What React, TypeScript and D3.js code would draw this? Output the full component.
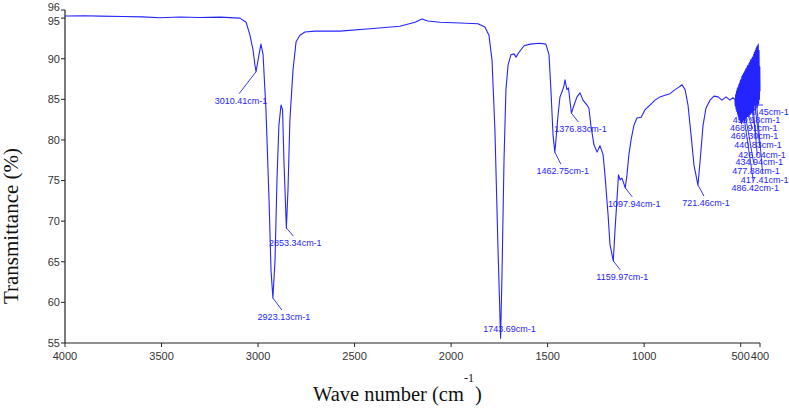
import React from "react";
import * as d3 from "d3";

// ---- data (wavenumber cm-1, transmittance %) ----
const spectrumMain: [number, number][] = [
  [4000, 95.26], [3900, 95.3], [3819, 95.25], [3700, 95.2], [3600, 95.15], [3508, 95.05],
  [3404, 95.14], [3301, 95.08], [3197, 95.12], [3094, 95.0], [3062, 94.5], [3042, 92.9],
  [3026, 91.1], [3016, 89.2], [3010.41, 88.4], [2995, 90.5], [2985, 91.8], [2974, 90.5],
  [2959, 83.7], [2943, 72.6], [2933, 64.0], [2923.13, 60.54], [2912, 65.2], [2902, 75.1],
  [2892, 81.8], [2881, 84.3], [2873, 83.7], [2866, 77.5], [2853.34, 69.16], [2845, 73.8],
  [2835, 82.5], [2819, 88.6], [2803, 92.1], [2783, 92.9], [2757, 93.3], [2705, 93.4],
  [2576, 93.4], [2420, 93.7], [2265, 94.0], [2187, 94.5], [2151, 94.9], [2120, 94.65],
  [2058, 94.5], [1954, 94.4], [1861, 94.3], [1825, 93.9], [1804, 92.9], [1788, 89.8],
  [1773, 81.2], [1757, 66.5], [1743.69, 55.6], [1736, 64.0], [1726, 77.5], [1716, 86.2],
  [1705, 89.2], [1690, 90.5], [1674, 90.6], [1664, 90.2], [1648, 90.8], [1622, 91.6],
  [1591, 91.8], [1540, 91.9], [1509, 91.8], [1493, 90.5], [1483, 86.2], [1472, 80.6],
  [1462.75, 78.5], [1457, 80.0], [1446, 83.1], [1436, 85.3], [1426, 85.9], [1416, 86.6],
  [1410, 87.4], [1400, 86.2], [1392, 86.4], [1384, 84.7], [1376.83, 83.3], [1363, 84.3],
  [1348, 85.3], [1332, 85.8], [1317, 84.9], [1296, 84.3], [1286, 83.9], [1276, 81.8],
  [1260, 79.4], [1244, 78.5], [1229, 79.3], [1213, 78.2], [1203, 75.7], [1187, 70.8],
  [1177, 67.1], [1159.97, 65.1], [1151, 68.9], [1141, 72.6], [1133, 75.7], [1125, 75.1],
  [1115, 75.3], [1097.94, 74.1], [1089, 75.7], [1079, 78.2], [1068, 80.0], [1053, 81.8],
  [1037, 82.7], [1016, 82.8], [996, 83.7], [970, 84.3], [944, 84.9], [918, 85.3],
  [892, 85.5], [866, 85.7], [840, 86.2], [820, 86.5], [804, 86.8], [788, 86.2],
  [773, 84.3], [757, 80.6], [742, 76.9], [721.46, 74.45], [710, 77.5], [695, 81.8],
  [680, 83.9], [659, 84.9], [638, 85.4], [617, 85.3], [597, 84.9], [576, 85.3],
  [556, 84.9], [540, 85.2],
];

const spectrumNoise: [number, number][] = [
  [530, 85.0], [528, 84.2], [526, 85.6], [524, 83.8], [522, 86.0], [520, 83.5],
  [518, 86.3], [516, 83.2], [514, 86.5], [512, 82.9], [510, 86.8], [508, 82.6],
  [506, 87.0], [504, 82.4], [502, 87.3], [500, 82.2], [498, 87.5], [496, 82.0],
  [494, 87.8], [492, 82.3], [490, 88.0], [488, 82.1], [486.42, 83.4], [485, 88.2],
  [483, 82.5], [481, 88.4], [479, 82.3], [477.88, 83.3], [476, 88.6], [474, 82.6],
  [472, 88.8], [470, 82.8], [469.3, 83.6], [468.91, 83.6], [467, 89.0], [465, 82.9],
  [463, 89.2], [461, 83.0], [459.18, 83.7], [457, 89.4], [455, 83.1], [453, 89.6],
  [451, 83.2], [449, 89.8], [447, 83.3], [445, 90.0], [443, 83.4], [440.83, 83.8],
  [439, 90.2], [437, 83.5], [434.94, 84.0], [433, 90.5], [431, 83.6], [429, 90.8],
  [426.04, 84.3], [424, 91.0], [422, 83.8], [420, 91.3], [417.41, 84.4], [416, 91.5],
  [414, 84.0], [412, 91.6], [410.45, 84.3], [409, 91.8], [407, 84.5], [405, 91.0],
  [403, 85.0], [401, 89.0], [400, 86.0],
];

const peakWavenumbers = [
  3010.41, 2923.13, 2853.34, 1743.69, 1462.75, 1376.83, 1159.97, 1097.94, 721.46,
  410.45, 459.18, 468.91, 469.3, 440.83, 426.04, 434.94, 477.88, 417.41, 486.42,
];
const peakTransmittance = [
  88.4, 60.54, 69.16, 55.6, 78.5, 83.3, 65.1, 74.1, 74.45,
  84.3, 83.7, 83.6, 83.6, 83.8, 84.3, 84.0, 83.3, 84.4, 83.4,
];

const xTicks = [4000, 3500, 3000, 2500, 2000, 1500, 1000, 500, 400];
const yTicks = [55, 60, 65, 70, 75, 80, 85, 90, 95, 96];

// ---- layout (label offsets from peak in px: dx, dy, draw leader) ----
const labelOffsets: [number, number, boolean][] = [
  [-15, 29, true], [11, 19, true], [9, 15, true], [9, -9, false], [8, 19, true],
  [9, 16, true], [9, 16, true], [9, 16, true], [8, 18, true],
  [7, 7, true], [8, 10, true], [7, 17, true], [8, 25, true], [6, 36, true],
  [7, 50, true], [6, 55, true], [11, 58, true], [8, 76, true], [12, 76, true],
];
// small vertical nudges for crowded top tick labels
const yTickLabelNudge: Record<number, number> = { 96: -3, 95: 3 };

const W = 789;
const H = 408;
const BLUE = "#2424ff";

export default function App() {
  const x = d3.scaleLinear().domain([4000, 400]).range([65, 760]);
  const y = d3.scaleLinear().domain([55, 96]).range([343, 10]);

  const data = [...spectrumMain, ...spectrumNoise].sort((a, b) => b[0] - a[0]);
  const line = d3
    .line<[number, number]>()
    .x((d) => x(d[0]))
    .y((d) => y(d[1]));

  const tickFont = "Arial, 'Liberation Sans', sans-serif";
  const serif = "'Times New Roman', 'Liberation Serif', serif";

  return (
    <svg
      width={W}
      height={H}
      style={{ position: "absolute", left: 0, top: 0, background: "#fff" }}
    >
      <rect x={0} y={0} width={W} height={H} fill="#fff" />
      {/* spectrum */}
      <path d={line(data) || ""} fill="none" stroke={BLUE} strokeWidth={1.1} strokeLinejoin="round" />

      {/* peak labels */}
      {peakWavenumbers.map((wn, i) => {
        const px = x(wn);
        const py = y(peakTransmittance[i]);
        const [dx, dy, leader] = labelOffsets[i];
        const cx = px + dx;
        const cy = py + dy;
        return (
          <g key={"pk" + i}>
            {leader && (
              <line x1={px} y1={py} x2={cx - 2} y2={cy - 7} stroke={BLUE} strokeWidth={0.9} />
            )}
            <text
              x={cx}
              y={cy + 3}
              textAnchor="middle"
              fontFamily={tickFont}
              fontSize={9}
              fill={BLUE}
            >
              {wn.toFixed(2) + "cm-1"}
            </text>
          </g>
        );
      })}

      {/* axes */}
      <line x1={x(4000)} y1={y(55)} x2={x(4000)} y2={y(96)} stroke="#222" strokeWidth={1.2} />
      <line x1={x(4000)} y1={y(55)} x2={x(400)} y2={y(55)} stroke="#222" strokeWidth={1.2} />
      {yTicks.map((t) => (
        <g key={"yt" + t}>
          <line x1={x(4000) - 4} x2={x(4000)} y1={y(t)} y2={y(t)} stroke="#222" strokeWidth={1} />
          <text
            x={x(4000) - 5}
            y={y(t) + (yTickLabelNudge[t] || 0)}
            dy="0.35em"
            textAnchor="end"
            fontFamily={tickFont}
            fontSize={11}
            fill="#333"
          >
            {t}
          </text>
        </g>
      ))}
      {xTicks.map((t) => (
        <g key={"xt" + t}>
          <line x1={x(t)} x2={x(t)} y1={y(55)} y2={y(55) + 4} stroke="#222" strokeWidth={1} />
          <text
            x={x(t)}
            y={y(55) + 17}
            textAnchor="middle"
            fontFamily={tickFont}
            fontSize={11}
            fill="#333"
          >
            {t}
          </text>
        </g>
      ))}

      {/* axis titles */}
      <text
        transform={`translate(18, 226) rotate(-90)`}
        textAnchor="middle"
        fontFamily={serif}
        fontSize={21}
        fill="#111"
      >
        Transmittance (%)
      </text>
      <text x={313} y={401} fontFamily={serif} fontSize={20.5} fill="#111">
        Wave number (cm
        <tspan dy={-19} fontSize={12}>-1</tspan>
        <tspan dy={19} dx={1}>)</tspan>
      </text>
    </svg>
  );
}
